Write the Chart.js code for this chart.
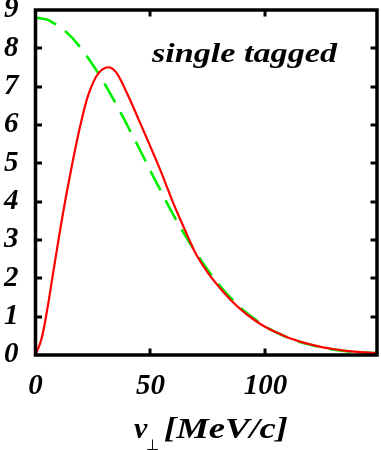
<!DOCTYPE html>
<html>
<head>
<meta charset="utf-8">
<script src="https://cdn.jsdelivr.net/npm/chart.js@4.4.1/dist/chart.umd.min.js"></script>
<style>
  html, body { margin: 0; padding: 0; background: #ffffff; }
  #wrap { position: relative; width: 381px; height: 450px; }
  canvas { display: block; }
  #probe { position: absolute; left: -1000px; top: 0; font: italic bold 29px "Liberation Serif"; }
</style>
</head>
<body>
<div id="wrap"><canvas id="c" width="381" height="450"></canvas></div>
<div id="probe">0123456789 single tagged [MeV/c]</div>
<script>
// transverse momentum v_perp [MeV/c]
const vPerp = [0, 2.5, 5, 7.5, 10, 12.5, 15, 17.5, 20, 22.5, 25, 27.5, 30, 32.5, 35, 37.5, 40, 42.5, 45, 47.5,
               50, 52.5, 55, 57.5, 60, 62.5, 65, 67.5, 70, 75, 80, 85, 90, 95, 100, 105, 110, 115, 120, 125, 130,
               135, 140, 145, 150];
// red solid curve
const redCurve = [0, 0.4, 1.15, 2.08, 3.0, 3.88, 4.68, 5.44, 6.12, 6.7, 7.1, 7.36, 7.48, 7.50, 7.38, 7.12, 6.8, 6.47, 6.12, 5.78,
                  5.43, 5.08, 4.72, 4.33, 3.95, 3.6, 3.26, 2.92, 2.61, 2.14, 1.76, 1.43, 1.15, 0.92, 0.73, 0.58, 0.45, 0.35, 0.27, 0.20, 0.15,
                  0.11, 0.08, 0.06, 0.05];
// green dashed curve
const greenCurve = [8.8, 8.78, 8.75, 8.67, 8.59, 8.47, 8.33, 8.17, 7.98, 7.78, 7.56, 7.33, 7.08, 6.82, 6.55, 6.27, 5.98, 5.69, 5.40, 5.10,
                    4.80, 4.51, 4.22, 3.93, 3.65, 3.38, 3.13, 2.88, 2.65, 2.21, 1.82, 1.48, 1.19, 0.95, 0.74, 0.58, 0.45, 0.34, 0.26, 0.19, 0.14,
                    0.10, 0.08, 0.06, 0.05];
const xTickValues = [0, 50, 100];
const yTickValues = [0, 1, 2, 3, 4, 5, 6, 7, 8, 9];
const annotationText = 'single tagged';
const axisLabelMain = 'v';
const axisLabelSub = '\u22A5';
const axisLabelUnit = '[MeV/c]';

const FONT = '"Liberation Serif"';
const tickFont = { family: FONT, size: 29, style: 'italic', weight: 'bold', lineHeight: 1.2 };

const framePlugin = {
  id: 'frame',
  afterDraw(chart) {
    const ctx = chart.ctx;
    const a = chart.chartArea;
    const xs = chart.scales.x, ys = chart.scales.y;
    ctx.save();
    ctx.strokeStyle = '#000';
    ctx.lineWidth = 3;
    ctx.lineCap = 'butt';
    const tl = 6.5;
    ctx.beginPath();
    xs.ticks.forEach(t => {
      if (t.value <= xs.min || t.value >= xs.max) return;
      const px = Math.round(xs.getPixelForValue(t.value));
      ctx.moveTo(px, a.bottom); ctx.lineTo(px, a.bottom - tl);
      ctx.moveTo(px, a.top); ctx.lineTo(px, a.top + tl);
    });
    ys.ticks.forEach(t => {
      if (t.value <= ys.min || t.value >= ys.max) return;
      const py = Math.round(ys.getPixelForValue(t.value));
      ctx.moveTo(a.left, py); ctx.lineTo(a.left + tl, py);
      ctx.moveTo(a.right, py); ctx.lineTo(a.right - tl, py);
    });
    ctx.stroke();
    ctx.lineWidth = 3.5;
    ctx.strokeRect(a.left, a.top, a.right - a.left, a.bottom - a.top);

    ctx.fillStyle = '#000';
    ctx.textBaseline = 'alphabetic';
    ctx.textAlign = 'left';
    ctx.font = 'italic bold 28px ' + FONT;
    let w = ctx.measureText(annotationText).width;
    ctx.save();
    ctx.translate(152, 62);
    ctx.scale(185 / w, 1);
    ctx.fillText(annotationText, 0, 0);
    ctx.restore();

    // axis title: v with subscript perp, then unit
    ctx.font = 'italic bold 30px ' + FONT;
    ctx.fillText(axisLabelMain, 134, 438);
    ctx.font = '15px ' + FONT;
    ctx.textAlign = 'center';
    ctx.fillText(axisLabelSub, 152.5, 450);
    ctx.textAlign = 'left';
    ctx.font = 'italic bold 30px ' + FONT;
    w = ctx.measureText(axisLabelUnit).width;
    ctx.save();
    ctx.translate(164, 438);
    ctx.scale(124 / w, 1);
    ctx.fillText(axisLabelUnit, 0, 0);
    ctx.restore();
    ctx.restore();
  }
};

function build() {
  new Chart(document.getElementById('c'), {
    type: 'line',
    data: {
      datasets: [
        {
          label: 'single tagged',
          data: vPerp.map((x, i) => ({ x: x, y: redCurve[i] })),
          borderColor: '#ff0000',
          borderWidth: 2.2,
          pointRadius: 0,
          fill: false,
          tension: 0.4
        },
        {
          label: 'fit',
          data: vPerp.map((x, i) => ({ x: x, y: greenCurve[i] })),
          borderColor: '#00ee00',
          borderWidth: 2.6,
          borderDash: [22, 11],
          pointRadius: 0,
          fill: false,
          tension: 0.4
        }
      ]
    },
    options: {
      responsive: false,
      animation: false,
      devicePixelRatio: 1,
      layout: { padding: { top: 10, right: 4, left: 0, bottom: 0 } },
      plugins: { legend: { display: false }, tooltip: { enabled: false }, title: { display: false } },
      scales: {
        x: {
          type: 'linear',
          min: 0,
          max: 148.5,
          grid: { display: false, drawTicks: false },
          border: { display: false },
          afterBuildTicks: s => { s.ticks = xTickValues.map(v => ({ value: v })); },
          ticks: { font: tickFont, color: '#000', padding: 14, maxRotation: 0, autoSkip: false },
          afterFit: s => { s.height = 95; s.paddingLeft = 0; s.paddingRight = 0; }
        },
        y: {
          type: 'linear',
          min: 0,
          max: 9,
          grid: { display: false, drawTicks: false },
          border: { display: false },
          afterBuildTicks: s => { s.ticks = yTickValues.map(v => ({ value: v })); },
          ticks: { font: tickFont, color: '#000', padding: 17, autoSkip: false },
          afterFit: s => { s.width = 35.5; s.paddingTop = 0; s.paddingBottom = 0; }
        }
      }
    },
    plugins: [framePlugin]
  });
}

Promise.all([
  document.fonts.load('italic bold 29px "Liberation Serif"'),
  document.fonts.load('15px "Liberation Serif"')
]).then(build, build);
</script>
</body>
</html>
